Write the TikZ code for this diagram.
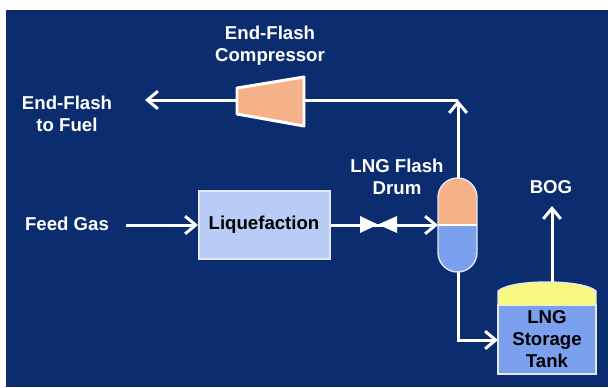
\documentclass[tikz,border=0pt]{standalone}
\usepackage{fontspec}
\setmainfont{Liberation Sans}
\usepackage{tikz}
\usetikzlibrary{arrows.meta,positioning}
\definecolor{navy}{RGB}{12,44,112}
\definecolor{peach}{RGB}{245,178,136}
\definecolor{drumblue}{RGB}{122,160,238}
\definecolor{paleblue}{RGB}{184,204,246}
\definecolor{tankyellow}{RGB}{248,248,128}
\definecolor{edge}{RGB}{225,232,245}
\tikzstyle{arrow} = [white,line width=1.7pt,-{Straight Barb[length=6pt,width=10pt,line width=1.7pt]}]
\tikzstyle{line} = [white,line width=1.7pt]
\tikzstyle{lbl} = [white,font=\bfseries\fontsize{10.6pt}{12.5pt}\selectfont,align=center,inner sep=0pt]
\tikzstyle{dark} = [lbl,black]

\begin{document}
\begin{tikzpicture}[x=0.02cm,y=-0.02cm]
\useasboundingbox (0,0) rectangle (608,387);
\fill[white] (0,0) rectangle (608,387);
\fill[navy] (6,10) rectangle (608,387);

% labels
\node[lbl] (compLabel) at (270,45.5) {End-Flash\\Compressor};
\node[lbl] (fuelLabel) at (67,114) {End-Flash\\to Fuel};
\node[lbl] (feedLabel) at (67,224) {Feed Gas};
\node[lbl] (drumLabel) at (397,177) {LNG Flash\\Drum};
\node[lbl] (bogLabel) at (551,187) {BOG};

% pipe ends
\coordinate (compL) at (236,100);
\coordinate (compR) at (305,100);
\coordinate (fuelEnd) at (145,100);
\coordinate (drumTop) at (458,178);
\coordinate (drumBot) at (458,272);
\coordinate (drumMid) at (438,225);
\coordinate (corner) at (458,100);
\coordinate (tankIn) at (498,340);
\coordinate (tankTop) at (552,282);
\coordinate (bogEnd) at (552,206);
\coordinate (feedEnd) at (126,225);
\coordinate (valveL) at (360,225);
\coordinate (valveR) at (397,225);

% piping
\draw[arrow] (feedEnd) -- (198,225);
\draw[line] (330,225) -- (valveL);
\draw[line] (valveL) -- (valveR);
\draw[arrow] (valveR) -- (drumMid);
\draw[arrow] (drumTop) -- (corner);
\draw[line] (corner) -- (compR);
\draw[arrow] (compL) -- (fuelEnd);
\draw[arrow] (drumBot) |- (tankIn);
\draw[arrow] (tankTop) -- (bogEnd);

% liquefaction box
\node[draw=edge,fill=paleblue,line width=0.6pt,minimum width=2.62cm,minimum height=1.36cm,inner sep=0pt] (liq) at (264.5,225) {};
\node[dark] (liqLabel) at (264,225) {Liquefaction};

% compressor
\draw[white,line width=1.7pt,line join=round,fill=peach] (237,88) -- (304,77) -- (304,126) -- (237,114) -- cycle;

% drum
\fill[peach] (438,225) -- (438,197.5) arc (180:360:19.5) -- (477,225) -- cycle;
\fill[drumblue] (438,225) -- (438,252.5) arc (180:0:19.5) -- (477,225) -- cycle;
\draw[edge,line width=0.8pt] (438,197.5) arc (180:360:19.5) -- (477,252.5) arc (0:180:19.5) -- cycle;
\draw[white,line width=1pt] (438,225) -- (477,225);

% tank
\fill[drumblue,draw=edge,line width=0.8pt] (498,305) rectangle (596,374);
\fill[tankyellow] (498,305) -- (498,291) .. controls (505,285) and (525,282) .. (547,282) .. controls (569,282) and (589,285) .. (596,291) -- (596,305) -- cycle;
\draw[edge,line width=0.8pt] (498,305) -- (498,291) .. controls (505,285) and (525,282) .. (547,282) .. controls (569,282) and (589,285) .. (596,291) -- (596,305);
\node[dark] (tankLabel) at (547,339) {LNG\\Storage\\Tank};

% valve
\fill[white] (360,216) -- (378,224.5) -- (360,233) -- cycle;
\fill[white] (397,216) -- (378,224.5) -- (397,233) -- cycle;
\end{tikzpicture}
\end{document}
